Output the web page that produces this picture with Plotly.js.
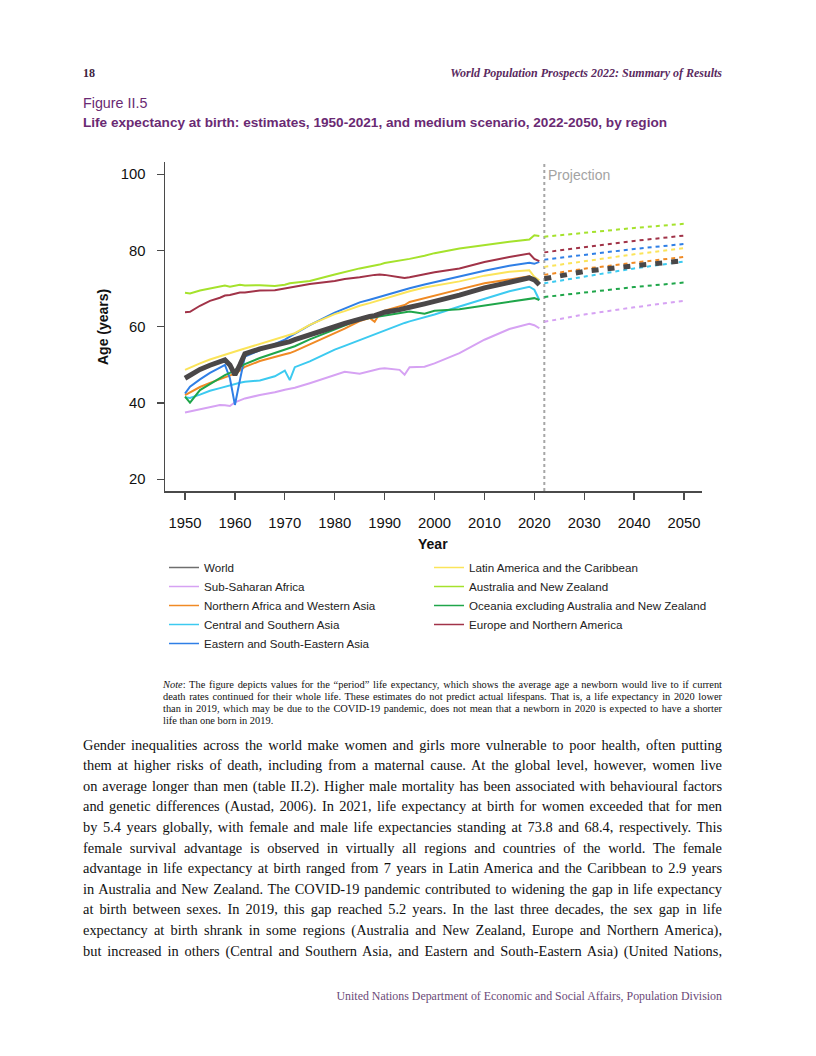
<!DOCTYPE html>
<html><head><meta charset="utf-8">
<script src="https://cdn.plot.ly/plotly-3.0.1.min.js"></script>
<style>
body{margin:0;background:#fff;}
#page{position:relative;width:816px;height:1056px;overflow:hidden;background:#fff;}
#chart{position:absolute;left:0;top:0;width:816px;height:1056px;z-index:1;}
.t{position:absolute;white-space:nowrap;z-index:2;}
.serif{font-family:"Liberation Serif","Times New Roman",serif;}
.sans{font-family:"Liberation Sans",Arial,sans-serif;}
.jl{white-space:nowrap;text-align:justify;text-align-last:justify;}
</style>
</head><body>
<div id="page">
<div id="chart"></div>
<div class="t serif" style="left:83px;top:65px;font-size:12px;line-height:16px;font-weight:bold;color:#3d2240;">18</div>
<div class="t serif" style="right:94px;top:65px;font-size:12px;line-height:16px;font-weight:bold;font-style:italic;color:#5a2a60;">World Population Prospects 2022: Summary of Results</div>
<div class="t sans" style="left:83px;top:94px;font-size:14.3px;line-height:18px;color:#6a2a73;">Figure II.5</div>
<div class="t sans" style="left:83px;top:114px;font-size:13.6px;line-height:18px;font-weight:bold;color:#6a2a73;">Life expectancy at birth: estimates, 1950-2021, and medium scenario, 2022-2050, by region</div>

<div class="t serif" style="left:163px;top:678.5px;width:559px;font-size:10.4px;line-height:12.2px;color:#111;white-space:normal;">
<div class="jl"><i>Note</i>: The figure depicts values for the “period” life expectancy, which shows the average age a newborn would live to if current</div>
<div class="jl">death rates continued for their whole life. These estimates do not predict actual lifespans. That is, a life expectancy in 2020 lower</div>
<div class="jl">than in 2019, which may be due to the COVID-19 pandemic, does not mean that a newborn in 2020 is expected to have a shorter</div>
<div>life than one born in 2019.</div>
</div>

<div class="t serif" style="left:83px;top:734.7px;width:639px;font-size:14.4px;line-height:20.6px;color:#111;white-space:normal;">
<div class="jl">Gender inequalities across the world make women and girls more vulnerable to poor health, often putting</div>
<div class="jl">them at higher risks of death, including from a maternal cause. At the global level, however, women live</div>
<div class="jl">on average longer than men (table II.2). Higher male mortality has been associated with behavioural factors</div>
<div class="jl">and genetic differences (Austad, 2006). In 2021, life expectancy at birth for women exceeded that for men</div>
<div class="jl">by 5.4 years globally, with female and male life expectancies standing at 73.8 and 68.4, respectively. This</div>
<div class="jl">female survival advantage is observed in virtually all regions and countries of the world. The female</div>
<div class="jl">advantage in life expectancy at birth ranged from 7 years in Latin America and the Caribbean to 2.9 years</div>
<div class="jl">in Australia and New Zealand. The COVID-19 pandemic contributed to widening the gap in life expectancy</div>
<div class="jl">at birth between sexes. In 2019, this gap reached 5.2 years. In the last three decades, the sex gap in life</div>
<div class="jl">expectancy at birth shrank in some regions (Australia and New Zealand, Europe and Northern America),</div>
<div class="jl">but increased in others (Central and Southern Asia, and Eastern and South-Eastern Asia) (United Nations,</div>
</div>

<div class="t serif" style="right:94px;top:989px;font-size:11.9px;line-height:15px;color:#6b4a78;">United Nations Department of Economic and Social Affairs, Population Division</div>
</div>
<script>
// ---- data ----
const years = [1950,1951,1953,1955,1957,1958,1959,1960,1961,1962,1965,1968,1970,1971,1972,1975,1980,1982,1985,1987,1988,1989,1990,1993,1994,1995,1998,2000,2005,2010,2015,2019,2020,2021];
const projYears = [2022,2030,2040,2050];
const projectionStart = 2022;

const regionNames = ["World","Sub-Saharan Africa","Northern Africa and Western Asia","Central and Southern Asia","Eastern and South-Eastern Asia","Latin America and the Caribbean","Australia and New Zealand","Oceania excluding Australia and New Zealand","Europe and Northern America"];

const world   = [46.5,47.3,48.8,49.9,50.8,51.3,50.0,47.4,50.0,52.9,54.2,55.0,55.7,56.1,56.6,58.0,60.0,60.9,62.1,62.7,62.9,63.4,63.8,64.5,64.7,65.1,66.0,66.6,68.3,70.2,71.8,72.8,72.3,71.0];
const ssa     = [37.5,37.8,38.4,38.9,39.5,39.4,39.2,40.2,40.8,41.2,42.1,42.8,43.5,43.8,44.0,45.2,47.4,48.2,47.7,48.4,48.7,49.0,49.1,48.7,47.4,49.4,49.5,50.4,53.1,56.6,59.4,60.8,60.4,59.6];
const nawa    = [42.1,42.8,44.2,45.3,46.3,46.8,47.2,47.7,48.5,49.5,51.0,52.2,52.8,53.1,53.6,55.4,58.2,59.5,61.5,62.3,61.3,63.5,64.2,65.2,65.7,66.5,67.5,68.3,69.8,71.4,72.5,73.2,72.5,71.4];
const csa     = [41.5,41.3,42.2,43.2,43.9,44.3,44.6,45.0,45.3,45.6,45.9,47.0,48.5,46.0,49.4,50.9,54.0,55.0,56.5,57.5,58.0,58.6,59.2,60.6,61.0,61.4,62.4,63.2,65.3,67.4,69.3,70.5,69.7,67.0];
const esea    = [42.5,44.3,46.2,47.9,49.3,50.0,46.5,39.5,46.0,52.2,53.8,55.4,56.6,57.4,58.2,60.4,63.7,64.8,66.4,67.1,67.5,67.9,68.3,69.3,69.7,70.1,71.1,71.7,73.1,74.7,76.0,76.8,76.5,77.0];
const lac     = [48.7,49.3,50.4,51.4,52.3,52.7,53.1,53.5,53.9,54.3,55.5,56.7,57.5,57.9,58.3,60.5,63.3,64.1,65.5,66.2,66.6,67.0,67.4,68.5,68.9,69.3,70.3,70.8,71.9,73.4,74.4,74.8,73.1,72.2];
const anz     = [68.9,68.7,69.5,70.0,70.4,70.8,70.5,70.8,71.0,70.8,70.9,70.7,71.0,71.4,71.6,72.0,73.7,74.4,75.3,75.8,76.0,76.3,76.7,77.3,77.6,77.8,78.6,79.3,80.5,81.5,82.3,82.9,84.0,83.8];
const oceania = [41.7,40.1,43.4,45.0,46.5,47.3,47.9,48.6,49.3,50.2,51.8,53.1,54.0,54.4,54.9,56.7,59.3,60.3,61.9,62.3,62.5,62.7,62.9,63.5,63.8,64.0,63.4,64.2,64.6,65.6,66.5,67.3,67.5,67.0];
const ena     = [63.8,63.9,65.5,66.8,67.6,68.2,68.3,68.6,69.0,69.0,69.5,69.6,70.1,70.3,70.5,71.2,72.0,72.5,73.0,73.5,73.6,73.7,73.6,73.0,72.8,73.0,73.9,74.3,75.3,77.0,78.3,79.2,77.8,77.2];

const worldProj   = [72.6,74.5,76.0,77.3];
const ssaProj     = [61.3,63.2,65.1,66.8];
const nawaProj    = [73.6,75.2,76.8,78.3];
const csaProj     = [71.4,73.2,75.3,77.1];
const eseaProj    = [77.6,78.9,80.4,81.7];
const lacProj     = [75.7,77.2,79.0,80.6];
const anzProj     = [83.6,84.7,85.9,87.0];
const oceaniaProj = [67.8,69.0,70.4,71.6];
const enaProj     = [79.5,80.9,82.5,83.9];

const xTicks = [1950,1960,1970,1980,1990,2000,2010,2020,2030,2040,2050];
const yTicks = [20,40,60,80,100];

// ---- styles ----
const colors = ["#4a4748","#d6a2f3","#f08a24","#3ccaf0","#2f7fe6","#fbe45a","#a5e22c","#1fa64a","#a13348"];
const estSeries = [world,ssa,nawa,csa,esea,lac,anz,oceania,ena];
const projSeries = [worldProj,ssaProj,nawaProj,csaProj,eseaProj,lacProj,anzProj,oceaniaProj,enaProj];

const traces = [];
const drawOrder = [1,2,3,4,5,6,7,8,0];
drawOrder.forEach(i => {
  const isWorld = i === 0;
  traces.push({x: years, y: estSeries[i], type:'scatter', mode:'lines', showlegend:false,
    line:{color: colors[i], width: isWorld ? 5 : 2}, hoverinfo:'skip'});
  traces.push({x: projYears, y: projSeries[i], type:'scatter', mode:'lines', showlegend:false,
    line:{color: colors[i], width: isWorld ? 5 : 2, dash: isWorld ? '7px,9px' : '4px,4px'}, hoverinfo:'skip'});
});
regionNames.forEach((name, i) => {
  traces.push({x:[null], y:[null], type:'scatter', mode:'lines', name: name,
    legend: i < 5 ? 'legend' : 'legend2',
    line:{color: i === 0 ? '#6e6e6e' : colors[i], width:1.5}});
});

const W = 816, H = 1056, L = 165, R = 702, T = 162, B = 491;
const px2paperX = px => (px - L) / (R - L);
const px2paperY = py => (B - py) / (B - T);

const axisCommon = {showgrid:false, zeroline:false, showline:true, linecolor:'#4a4a4a', linewidth:1.5,
  ticks:'outside', ticklen:7, tickwidth:1.3, tickcolor:'#4a4a4a',
  tickfont:{family:'Liberation Sans, Arial, sans-serif', size:14.8, color:'#111'}};

const legendFont = {family:'Liberation Sans, Arial, sans-serif', size:11.6, color:'#222'};
const layout = {
  width: W, height: H,
  margin:{l:L, r:W-R, t:T, b:H-B, pad:0},
  paper_bgcolor:'rgba(0,0,0,0)', plot_bgcolor:'rgba(0,0,0,0)',
  font:{family:'Liberation Sans, Arial, sans-serif', size:14, color:'#111'},
  xaxis: Object.assign({}, axisCommon, {range:[1945.99, 2053.6], tickvals:xTicks, ticklabelstandoff:11}),
  yaxis: Object.assign({}, axisCommon, {range:[16.93, 103.2], tickvals:yTicks, ticklabelstandoff:8}),
  showlegend:true,
  legend:{x:px2paperX(164), y:px2paperY(553), xanchor:'left', yanchor:'top', bgcolor:'rgba(0,0,0,0)',
    font:legendFont, itemwidth:30, tracegroupgap:0},
  legend2:{x:px2paperX(429), y:px2paperY(553), xanchor:'left', yanchor:'top', bgcolor:'rgba(0,0,0,0)',
    font:legendFont, itemwidth:30, tracegroupgap:0},
  shapes:[{type:'line', xref:'x', yref:'paper', x0:projectionStart, x1:projectionStart, y0:0, y1:1,
    line:{color:'#a6a6a6', width:2, dash:'3px,3px'}, layer:'below'}],
  annotations:[
    {text:'Projection', xref:'x', yref:'paper', x:projectionStart, y:px2paperY(165), xanchor:'left', yanchor:'top',
      xshift:2, showarrow:false, font:{size:14, color:'#a3a3a3'}},
    {text:'<b>Age (years)</b>', xref:'paper', yref:'paper', x:px2paperX(103), y:px2paperY(327), textangle:-90,
      xanchor:'center', yanchor:'middle', showarrow:false, font:{size:14, color:'#111'}},
    {text:'<b>Year</b>', xref:'paper', yref:'paper', x:px2paperX(433), y:px2paperY(544),
      xanchor:'center', yanchor:'middle', showarrow:false, font:{size:14, color:'#111'}}
  ]
};

Plotly.newPlot('chart', traces, layout, {staticPlot:true, displayModeBar:false});
</script>
</body></html>
